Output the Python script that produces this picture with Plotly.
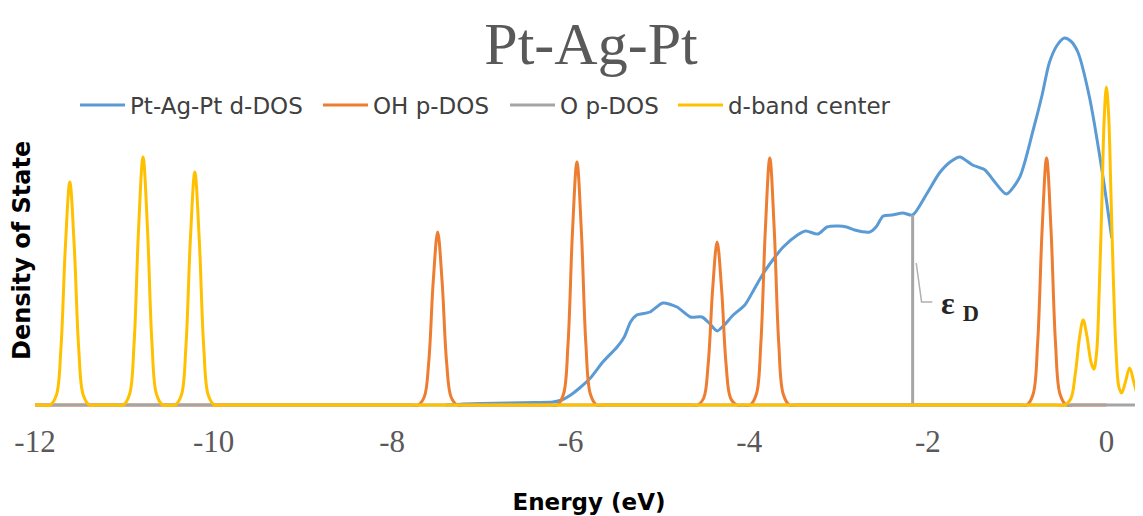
import plotly.graph_objects as go

# ---------------- data ----------------
d_energy = [-7.40, -7.20, -7.00, -6.70, -6.40, -6.20, -6.10, -6.00, -5.90, -5.78,
            -5.64, -5.48, -5.40, -5.33, -5.26, -5.11, -4.97, -4.81, -4.66, -4.53,
            -4.45, -4.36, -4.28, -4.18, -4.05, -3.95, -3.84, -3.72, -3.62, -3.46,
            -3.37, -3.23, -3.13, -3.00, -2.91, -2.82, -2.65, -2.58, -2.50, -2.40,
            -2.28, -2.17, -2.02, -1.87, -1.75, -1.64, -1.50, -1.36, -1.25, -1.12,
            -0.97, -0.82, -0.72, -0.64, -0.55, -0.47, -0.40, -0.32, -0.19, -0.05, 0.06]
d_dos = [0.00, 0.01, 0.015, 0.02, 0.025, 0.03, 0.05, 0.10, 0.17, 0.27,
         0.43, 0.58, 0.68, 0.83, 0.90, 0.93, 1.02, 0.98, 0.88, 0.88,
         0.82, 0.74, 0.80, 0.90, 1.00, 1.15, 1.32, 1.47, 1.58, 1.70,
         1.74, 1.71, 1.78, 1.79, 1.78, 1.75, 1.73, 1.78, 1.89, 1.90,
         1.92, 1.90, 2.10, 2.32, 2.43, 2.48, 2.40, 2.35, 2.23, 2.11,
         2.28, 2.75, 3.10, 3.42, 3.60, 3.67, 3.64, 3.53, 3.08, 2.35, 1.67]

oh_energy = [-12.0,
             -7.79, -7.71, -7.64, -7.59, -7.54, -7.49, -7.44, -7.39, -7.34, -7.27, -7.19,
             -6.23, -6.15, -6.08, -6.03, -5.98, -5.93, -5.88, -5.83, -5.78, -5.71, -5.63,
             -4.66, -4.58, -4.51, -4.46, -4.41, -4.36, -4.31, -4.26, -4.21, -4.14, -4.06,
             -4.07, -3.99, -3.92, -3.87, -3.82, -3.77, -3.72, -3.67, -3.62, -3.55, -3.47,
             -0.97, -0.89, -0.82, -0.77, -0.72, -0.67, -0.62, -0.57, -0.52, -0.45, -0.37,
             0.0]
oh_dos = [0.0,
          0.0, 0.0, 0.08, 0.43, 1.23, 1.73, 1.23, 0.43, 0.08, 0.0, 0.0,
          0.0, 0.0, 0.11, 0.61, 1.73, 2.43, 1.73, 0.61, 0.11, 0.0, 0.0,
          0.0, 0.0, 0.07, 0.41, 1.16, 1.63, 1.16, 0.41, 0.07, 0.0, 0.0,
          0.0, 0.0, 0.11, 0.62, 1.75, 2.47, 1.75, 0.62, 0.11, 0.0, 0.0,
          0.0, 0.0, 0.11, 0.62, 1.75, 2.47, 1.75, 0.62, 0.11, 0.0, 0.0,
          0.0]

o_energy = [-12.0, -2.17, -2.17, -2.17, 0.41]
o_dos = [0.0, 0.0, 1.90, 0.0, 0.0]

c_energy = [-12.0,
            -11.91, -11.83, -11.76, -11.71, -11.66, -11.61, -11.56, -11.51, -11.46, -11.39, -11.31,
            -11.09, -11.01, -10.94, -10.89, -10.84, -10.79, -10.74, -10.69, -10.64, -10.57, -10.49,
            -10.51, -10.43, -10.36, -10.31, -10.26, -10.21, -10.16, -10.11, -10.06, -9.99, -9.91,
            -0.60, -0.47, -0.40, -0.35, -0.30, -0.26, -0.22, -0.17, -0.14, -0.11, -0.08,
            -0.05, -0.025, 0.0, 0.025, 0.05, 0.08, 0.11, 0.14, 0.17, 0.21,
            0.26, 0.31, 0.36, 0.41]
c_dos = [0.0,
         0.0, 0.0, 0.10, 0.56, 1.58, 2.23, 1.58, 0.56, 0.10, 0.0, 0.0,
         0.0, 0.0, 0.11, 0.62, 1.76, 2.48, 1.76, 0.62, 0.11, 0.0, 0.0,
         0.0, 0.0, 0.10, 0.58, 1.65, 2.33, 1.65, 0.58, 0.10, 0.0, 0.0,
         0.0, 0.0, 0.06, 0.30, 0.68, 0.85, 0.70, 0.42, 0.36, 0.52, 1.15,
         2.05, 2.85, 3.18, 2.90, 2.15, 1.20, 0.50, 0.18, 0.12, 0.22,
         0.37, 0.22, 0.07, 0.02]

tick_vals = [-12, -10, -8, -6, -4, -2, 0]
tick_text = ["-12", "-10", "-8", "-6", "-4", "-2", "0"]

series_names = ["Pt-Ag-Pt d-DOS", "OH p-DOS", "O p-DOS", "d-band center"]
series_colors = ["#5b9bd5", "#ed7d31", "#a5a5a5", "#ffc000"]

eps_d = -2.17  # d-band centre position used for the label leader

# the page body has an 8px margin, so the figure is 8px smaller than the window
W, H = 1135, 508
L, R, T, B = 27, 0, 22, 106
plot_w = W - L - R
plot_h = H - T - B

# left edge (figure px) of each legend entry, one legend per series
legend_left = [67, 310, 497, 665]
legend_mid_y = 97

# ---------------- figure ----------------
fig = go.Figure()
fig.add_trace(go.Scatter(x=d_energy, y=d_dos, mode="lines", name=series_names[0], legend="legend",
                         line=dict(color=series_colors[0], width=3, shape="spline", smoothing=0.7)))
fig.add_trace(go.Scatter(x=oh_energy, y=oh_dos, mode="lines", name=series_names[1], legend="legend2",
                         line=dict(color=series_colors[1], width=3, shape="spline", smoothing=1.0)))
fig.add_trace(go.Scatter(x=o_energy, y=o_dos, mode="lines", name=series_names[2], legend="legend3",
                         line=dict(color=series_colors[2], width=3)))
fig.add_trace(go.Scatter(x=c_energy, y=c_dos, mode="lines", name=series_names[3], legend="legend4",
                         line=dict(color=series_colors[3], width=3, shape="spline", smoothing=1.0)))

# leader line to the epsilon_D label
fig.add_shape(type="path",
              path=f"M {eps_d + 0.04},1.42 L {eps_d + 0.10},1.03 L {eps_d + 0.22},1.03",
              xref="x", yref="y", line=dict(color="#b0b0b0", width=1.5))
fig.add_annotation(x=eps_d + 0.30, y=1.0, xref="x", yref="y", xanchor="left", yanchor="middle",
                   text="<b>ε <sub>D</sub></b>", showarrow=False,
                   font=dict(family="Liberation Serif", size=32, color="#262626"))

# y-axis title (placed as a rotated annotation so it can sit like the reference)
fig.add_annotation(x=(14 - L) / plot_w, y=(H - B - 243) / plot_h, xref="paper", yref="paper",
                   xanchor="center", yanchor="middle", textangle=-90, showarrow=False,
                   text="<b>Density of State</b>",
                   font=dict(family="DejaVu Sans", size=24, color="#000000"))


def legend_box(left_px):
    return dict(orientation="h", x=(left_px - L) / plot_w, y=(H - B - legend_mid_y) / plot_h,
                xanchor="left", yanchor="middle", xref="paper", yref="paper",
                itemwidth=45,
                font=dict(family="DejaVu Sans", size=23, color="#404040"),
                bgcolor="rgba(0,0,0,0)")


fig.update_layout(
    width=W, height=H,
    margin=dict(l=L, r=R, t=T, b=B, autoexpand=False),
    paper_bgcolor="white", plot_bgcolor="white",
    showlegend=True,
    title=dict(text="Pt-Ag-Pt", x=583 / W, xanchor="center", y=1 - 34.5 / H, yanchor="middle",
               xref="container", yref="container",
               font=dict(family="Liberation Serif", size=60, color="#595959")),
    legend=legend_box(legend_left[0]),
    legend2=legend_box(legend_left[1]),
    legend3=legend_box(legend_left[2]),
    legend4=legend_box(legend_left[3]),
    xaxis=dict(range=[-12.0, 0.41], tickvals=tick_vals, ticktext=tick_text,
               showgrid=False, zeroline=False, showline=False, ticks="", automargin=False,
               ticklabelstandoff=10,
               tickfont=dict(family="Liberation Serif", size=31, color="#595959"),
               title=dict(text="<b>Energy (eV)</b>", standoff=35,
                          font=dict(family="DejaVu Sans", size=23, color="#000000"))),
    yaxis=dict(range=[-0.05, 3.75], showticklabels=False, showgrid=False, zeroline=False,
               showline=False, ticks="", automargin=False),
)

fig.write_html("out.html")
